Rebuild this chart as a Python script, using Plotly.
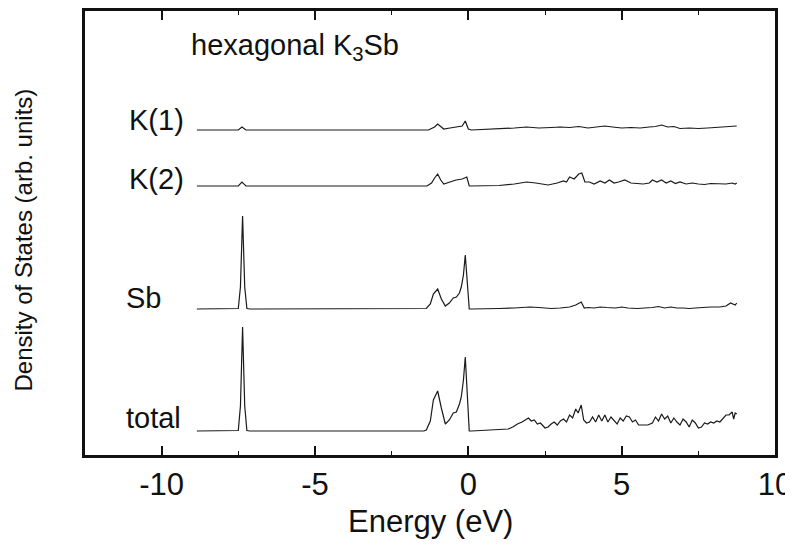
import plotly.graph_objects as go

# ---- data (energies in eV, DOS in arbitrary units) ----
E_total = [-8.85, -7.6, -7.5, -7.43, -7.36, -7.29, -7.22, -7.12, -1.45, -1.37, -1.24, -1.14,
           -1.0, -0.88, -0.75, -0.62, -0.49, -0.39, -0.29, -0.23, -0.16, -0.1, -0.03, 0.03,
           0.1, 0.5, 1.0, 1.3, 1.45, 1.6, 1.75, 1.85, 1.96, 2.05, 2.15, 2.25, 2.35, 2.5, 2.6,
           2.7, 2.8, 2.9, 3.0, 3.1, 3.2, 3.3, 3.4, 3.5, 3.58, 3.68, 3.76, 3.85, 3.95, 4.05,
           4.15, 4.25, 4.35, 4.45, 4.55, 4.65, 4.75, 4.85, 4.95, 5.05, 5.15, 5.25, 5.35, 5.45,
           5.55, 5.7, 5.85, 6.0, 6.1, 6.2, 6.3, 6.4, 6.5, 6.6, 6.7, 6.8, 6.9, 7.0, 7.1, 7.2,
           7.3, 7.4, 7.5, 7.6, 7.7, 7.8, 7.9, 8.0, 8.1, 8.2, 8.3, 8.4, 8.5, 8.6, 8.65, 8.7, 8.75]
DOS_total = [0, 0, 0.5, 25, 104, 25, 0.5, 0, 0, 1, 10, 31,
             40, 23, 7, 11, 18, 19, 27, 34, 51, 74, 36, 0,
             0, 0.5, 1, 2, 4, 7, 9, 11, 13, 10, 11, 7, 8, 3, 4,
             7, 9, 6, 10, 12, 9, 16, 13, 22, 18, 26, 11, 8, 9, 14,
             9, 16, 10, 16, 9, 14, 11, 7, 13, 10, 15, 14, 9, 11,
             6, 6, 6, 8, 14, 10, 17, 12, 15, 8, 13, 9, 6, 12, 9, 4,
             11, 8, 3, 4, 8, 7, 9, 8, 10, 9, 12, 16, 16, 19, 12, 18, 17]

E_sb = [-8.85, -7.6, -7.5, -7.43, -7.36, -7.29, -7.22, -7.12, -1.45, -1.37, -1.24, -1.14,
        -1.0, -0.88, -0.75, -0.62, -0.49, -0.39, -0.29, -0.23, -0.16, -0.1, -0.03, 0.03,
        0.1, 0.5, 1.0, 1.5, 2.0, 2.3, 2.7, 3.0, 3.3, 3.5, 3.68, 3.78, 3.9, 4.1, 4.3, 4.5,
        4.8, 5.0, 5.2, 5.5, 5.8, 6.0, 6.2, 6.4, 6.6, 6.8, 7.0, 7.2, 7.4, 7.6, 7.9, 8.2,
        8.4, 8.55, 8.65, 8.7, 8.75]
DOS_sb = [0, 0, 0.5, 22, 93, 22, 0.5, 0, 0, 0.5, 5, 15,
          20, 10, 3, 6, 11, 12, 16, 22, 34, 54, 25, 0,
          0, 0, 0.5, 1, 2, 1.5, 0.5, 1, 2, 4, 7, 1, 1.5, 1, 2, 1.5,
          1, 2, 1, 0.5, 1, 1.5, 2.5, 1, 2, 1, 1, 0.5, 1, 1.5, 2, 2,
          3, 6, 5, 4, 6]

E_k2 = [-8.85, -7.5, -7.38, -7.25, -1.35, -1.2, -1.1, -1.0, -0.9, -0.8, -0.6, -0.4, -0.2,
        -0.05, 0.03, 0.5, 1.0, 1.5, 1.9, 2.2, 2.6, 2.9, 3.1, 3.2, 3.3, 3.45, 3.6, 3.7, 3.8,
        3.95, 4.1, 4.3, 4.45, 4.6, 4.75, 4.9, 5.1, 5.3, 5.5, 5.7, 5.9, 6.0, 6.15, 6.3, 6.45,
        6.6, 6.75, 6.9, 7.1, 7.3, 7.5, 7.7, 7.9, 8.1, 8.4, 8.6, 8.7, 8.75]
DOS_k2 = [0, 0, 4, 0, 0, 3, 8, 12, 6, 2, 4, 6, 7,
          9, 0, 0, 0.5, 2, 4, 3, 1, 3, 5, 4, 9, 7, 12, 13, 4,
          4, 2, 5, 3, 6, 3, 4, 6, 3, 2.5, 2, 3, 6, 4, 6, 3,
          5, 2.5, 4, 2, 3, 2, 1.5, 2.5, 2, 2, 3, 2, 3]

E_k1 = [-8.85, -7.5, -7.38, -7.25, -1.3, -1.1, -1.0, -0.9, -0.8, -0.6, -0.4, -0.2, -0.1,
        0.0, 0.1, 0.5, 1.0, 1.5, 1.9, 2.3, 2.7, 3.0, 3.3, 3.6, 3.9, 4.2, 4.45, 4.7, 5.0,
        5.3, 5.6, 5.9, 6.1, 6.3, 6.5, 6.7, 6.9, 7.2, 7.5, 7.8, 8.1, 8.4, 8.6, 8.75]
DOS_k1 = [0, 0, 3, 0, 0, 3, 6, 3, 1, 2, 3, 4, 9,
          1, 0, 0.5, 1, 2, 3, 2, 2.5, 3, 2.5, 3.5, 2, 3, 4, 3, 2,
          2.5, 2, 3, 3.5, 5, 3, 3.5, 1.5, 2, 1.5, 2, 2.5, 3, 4, 4]

series_names = ["total", "Sb", "K(2)", "K(1)"]
x_tick_vals = [-10, -5, 0, 5, 10]
x_tick_text = ["-10", "-5", "0", "5", "10"]

# ---- vertical offsets for stacking (layout, not data) ----
offsets = {"total": 25, "Sb": 147, "K(2)": 270, "K(1)": 326}
curves = {"total": (E_total, DOS_total), "Sb": (E_sb, DOS_sb),
          "K(2)": (E_k2, DOS_k2), "K(1)": (E_k1, DOS_k1)}

FONT = "Liberation Sans, Arial, Helvetica, sans-serif"
INK = "#111111"
fig = go.Figure()
for name in series_names:
    ex, dv = curves[name]
    fig.add_trace(go.Scatter(x=ex, y=[v + offsets[name] for v in dv], mode="lines",
                             line=dict(color="#1a1a1a", width=1.2), name=name,
                             showlegend=False))

label_y = {"K(1)": 336, "K(2)": 277, "Sb": 158, "total": 38}
label_x = {"K(1)": -9.2, "K(2)": -9.2, "Sb": -9.95, "total": -9.3}
for name in series_names:
    fig.add_annotation(x=label_x[name], y=label_y[name], xref="x", yref="y",
                       text=name, showarrow=False, xanchor="right", yanchor="middle",
                       font=dict(family=FONT, size=29, color=INK))

fig.add_annotation(x=-9.1, y=409, xref="x", yref="y", text="hexagonal K<sub>3</sub>Sb",
                   showarrow=False, xanchor="left", yanchor="middle",
                   font=dict(family=FONT, size=29, color=INK))

# axis titles
fig.add_annotation(x=0.5, y=-0.147, xref="paper", yref="paper", text="Energy (eV)",
                   showarrow=False, xanchor="center", yanchor="middle",
                   font=dict(family=FONT, size=31, color=INK))
fig.add_annotation(x=-0.087, y=0.485, xref="paper", yref="paper",
                   text="Density of States (arb. units)", textangle=-90,
                   showarrow=False, xanchor="center", yanchor="middle",
                   font=dict(family=FONT, size=24, color=INK))

# frame around the plotting area
fig.add_shape(type="rect", xref="paper", yref="paper", x0=0, x1=1, y0=0, y1=1,
              line=dict(color=INK, width=2), layer="above")

# the page body adds an 8 px margin around the figure
fig.update_layout(
    width=785, height=534,
    margin=dict(l=76, r=17, t=2, b=86, autoexpand=False),
    paper_bgcolor="white", plot_bgcolor="white",
    font=dict(family=FONT, color=INK),
    xaxis=dict(range=[-12.53, 10.03], tickvals=x_tick_vals, ticktext=x_tick_text,
               ticks="inside", ticklen=10, tickwidth=1.5, tickcolor=INK,
               showline=True, linecolor=INK, linewidth=2, mirror="ticks",
               showgrid=False, zeroline=False, automargin=False,
               ticklabelstandoff=0,
               tickfont=dict(size=31, family=FONT, color=INK),
               minor=dict(dtick=2.5, tick0=0, ticks="inside", ticklen=5, tickwidth=1.2,
                          tickcolor=INK, showgrid=False)),
    yaxis=dict(range=[0, 446], showticklabels=False, ticks="", showline=True,
               linecolor=INK, linewidth=2, mirror=True, showgrid=False, zeroline=False,
               automargin=False),
)

fig.write_html("out.html")
